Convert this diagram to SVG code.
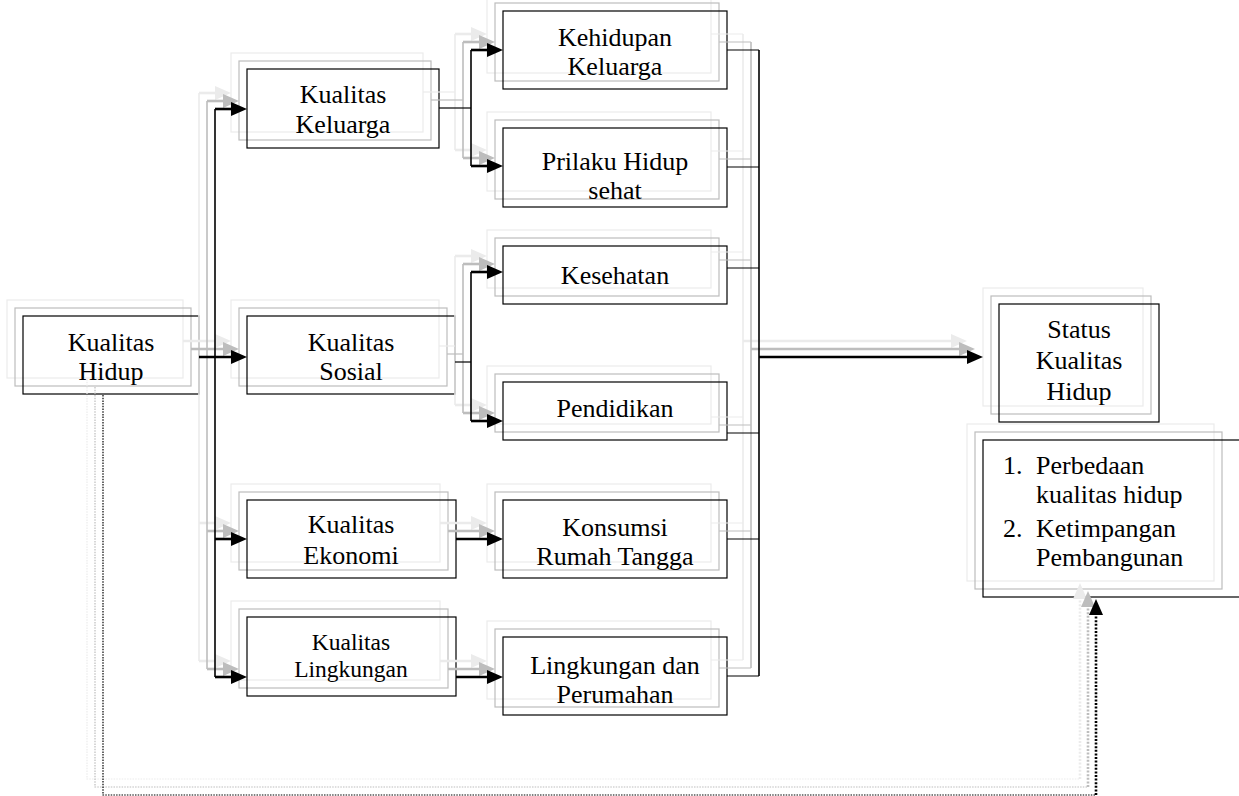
<svg xmlns="http://www.w3.org/2000/svg" xmlns:xlink="http://www.w3.org/1999/xlink" width="1239" height="796" viewBox="0 0 1239 796">
<style>
  .r3{fill:none;stroke:#ebebeb;stroke-width:1.2}
  .r2{fill:none;stroke:#bdbdbd;stroke-width:1.2}
  .r1{fill:none;stroke:#000;stroke-width:1.2}
  .t{font-family:'Liberation Serif','Tinos','Times New Roman','DejaVu Serif',serif;font-size:26px;fill:#000}
  .c{text-anchor:middle}
  .sm{font-size:23.5px}
  .thin{stroke-width:1.2}
  .trunk{stroke-width:1.6}
  .arr{stroke-width:2.6}
  .dot1{stroke-width:1.2;stroke-dasharray:1.5 1.2}
  .dot2{stroke-width:2.6;stroke-dasharray:2 1.6}
</style>
<defs>
  <path id="ah" d="M0,0 l-16,-7 v14 z" fill="currentColor" stroke="none"/>
  <path id="ahu" d="M0,0 l-7,16 h14 z" fill="currentColor" stroke="none"/>
  <g id="edges" fill="none" stroke="currentColor">
    <path class="arr" d="M199,357 H239"/>
    <path class="trunk" d="M215,109 V677"/>
    <path class="arr" d="M215,109 H239"/>
    <path class="arr" d="M215,539 H239"/>
    <path class="arr" d="M215,677 H239"/>
    <path class="thin" d="M439,108 H471"/>
    <path class="trunk" d="M471,50 V166"/>
    <path class="arr" d="M471,50 H495"/>
    <path class="arr" d="M471,166 H495"/>
    <path class="thin" d="M455,362 H471"/>
    <path class="trunk" d="M471,272 V421"/>
    <path class="arr" d="M471,272 H495"/>
    <path class="arr" d="M471,421 H495"/>
    <path class="arr" d="M456,539 H495"/>
    <path class="arr" d="M456,677 H495"/>
    <path class="thin" d="M727,50 H759 M727,167 H759 M727,268 H759 M727,433 H759 M727,539 H759 M727,676 H759"/>
    <path class="trunk" d="M759,50 V676"/>
    <path class="arr" d="M759,357 H975"/>
    <path class="dot1" d="M103,395 V795 H1096"/>
    <path class="dot2" d="M1096,795 V607"/>
    <use xlink:href="#ah" x="247" y="357"/>
    <use xlink:href="#ah" x="247" y="109"/>
    <use xlink:href="#ah" x="247" y="539"/>
    <use xlink:href="#ah" x="247" y="677"/>
    <use xlink:href="#ah" x="503" y="50"/>
    <use xlink:href="#ah" x="503" y="166"/>
    <use xlink:href="#ah" x="503" y="272"/>
    <use xlink:href="#ah" x="503" y="421"/>
    <use xlink:href="#ah" x="503" y="539"/>
    <use xlink:href="#ah" x="503" y="677"/>
    <use xlink:href="#ah" x="983" y="357"/>
    <use xlink:href="#ahu" x="1096" y="599"/>
  </g>
</defs>
<rect width="1239" height="796" fill="#fff"/>

<g id="n-kualitas-hidup">
  <rect class="r3" x="7" y="300" width="176" height="78"/>
  <rect class="r2" x="15" y="308" width="176" height="78"/>
  <rect class="r1" x="23" y="316" width="176" height="78"/>
  <text class="t c" font-family="Liberation Serif, serif" x="111" y="351">Kualitas</text>
  <text class="t c" font-family="Liberation Serif, serif" x="111" y="380">Hidup</text>
</g>
<g id="n-kualitas-keluarga">
  <rect class="r3" x="231" y="53" width="192" height="79"/>
  <rect class="r2" x="239" y="61" width="192" height="79"/>
  <rect class="r1" x="247" y="69" width="192" height="79"/>
  <text class="t c" x="343" y="103">Kualitas</text>
  <text class="t c" x="343" y="133">Keluarga</text>
</g>
<g id="n-kualitas-sosial">
  <rect class="r3" x="231" y="300" width="208" height="78"/>
  <rect class="r2" x="239" y="308" width="208" height="78"/>
  <rect class="r1" x="247" y="316" width="208" height="78"/>
  <text class="t c" x="351" y="351">Kualitas</text>
  <text class="t c" x="351" y="380">Sosial</text>
</g>
<g id="n-kualitas-ekonomi">
  <rect class="r3" x="231" y="484" width="209" height="78"/>
  <rect class="r2" x="239" y="492" width="209" height="78"/>
  <rect class="r1" x="247" y="500" width="209" height="78"/>
  <text class="t c" x="351" y="533">Kualitas</text>
  <text class="t c" x="351" y="564">Ekonomi</text>
</g>
<g id="n-kualitas-lingkungan">
  <rect class="r3" x="231" y="601" width="209" height="79"/>
  <rect class="r2" x="239" y="609" width="209" height="79"/>
  <rect class="r1" x="247" y="617" width="209" height="79"/>
  <text class="t c sm" x="351" y="650">Kualitas</text>
  <text class="t c sm" x="351" y="677">Lingkungan</text>
</g>
<g id="n-kehidupan-keluarga">
  <rect class="r3" x="487" y="-5" width="224" height="78"/>
  <rect class="r2" x="495" y="3" width="224" height="78"/>
  <rect class="r1" x="503" y="11" width="224" height="78"/>
  <text class="t c" x="615" y="46">Kehidupan</text>
  <text class="t c" x="615" y="75">Keluarga</text>
</g>
<g id="n-prilaku-hidup-sehat">
  <rect class="r3" x="487" y="112" width="224" height="79"/>
  <rect class="r2" x="495" y="120" width="224" height="79"/>
  <rect class="r1" x="503" y="128" width="224" height="79"/>
  <text class="t c" x="615" y="170">Prilaku Hidup</text>
  <text class="t c" x="615" y="199">sehat</text>
</g>
<g id="n-kesehatan">
  <rect class="r3" x="487" y="230" width="224" height="58"/>
  <rect class="r2" x="495" y="238" width="224" height="58"/>
  <rect class="r1" x="503" y="246" width="224" height="58"/>
  <text class="t c" x="615" y="284">Kesehatan</text>
</g>
<g id="n-pendidikan">
  <rect class="r3" x="487" y="366" width="224" height="58"/>
  <rect class="r2" x="495" y="374" width="224" height="58"/>
  <rect class="r1" x="503" y="382" width="224" height="58"/>
  <text class="t c" x="615" y="417">Pendidikan</text>
</g>
<g id="n-konsumsi-rumah-tangga">
  <rect class="r3" x="487" y="484" width="224" height="78"/>
  <rect class="r2" x="495" y="492" width="224" height="78"/>
  <rect class="r1" x="503" y="500" width="224" height="78"/>
  <text class="t c" x="615" y="536">Konsumsi</text>
  <text class="t c" x="615" y="565">Rumah Tangga</text>
</g>
<g id="n-lingkungan-perumahan">
  <rect class="r3" x="487" y="621" width="224" height="78"/>
  <rect class="r2" x="495" y="629" width="224" height="78"/>
  <rect class="r1" x="503" y="637" width="224" height="78"/>
  <text class="t c" x="615" y="674">Lingkungan dan</text>
  <text class="t c" x="615" y="703">Perumahan</text>
</g>
<g id="n-status-kualitas-hidup">
  <rect class="r3" x="983" y="288" width="160" height="118"/>
  <rect class="r2" x="991" y="296" width="160" height="118"/>
  <rect class="r1" x="999" y="304" width="160" height="118"/>
  <text class="t c" x="1079" y="338">Status</text>
  <text class="t c" x="1079" y="369">Kualitas</text>
  <text class="t c" x="1079" y="400">Hidup</text>
</g>
<g id="n-dampak">
  <rect class="r3" x="967" y="424" width="247" height="157"/>
  <rect class="r2" x="975" y="432" width="247" height="157"/>
  <rect class="r1" x="983" y="440" width="270" height="157"/>
  <text class="t" x="1003" y="474">1.</text>
  <text class="t" x="1036" y="474">Perbedaan</text>
  <text class="t" x="1036" y="503">kualitas hidup</text>
  <text class="t" x="1003" y="537">2.</text>
  <text class="t" x="1036" y="537">Ketimpangan</text>
  <text class="t" x="1036" y="566">Pembangunan</text>
</g>

<g id="connectors">
  <use xlink:href="#edges" transform="translate(-16,-16)" color="#ebebeb"/>
  <use xlink:href="#edges" transform="translate(-8,-8)" color="#bdbdbd"/>
  <use xlink:href="#edges" color="#000"/>
</g>
</svg>
